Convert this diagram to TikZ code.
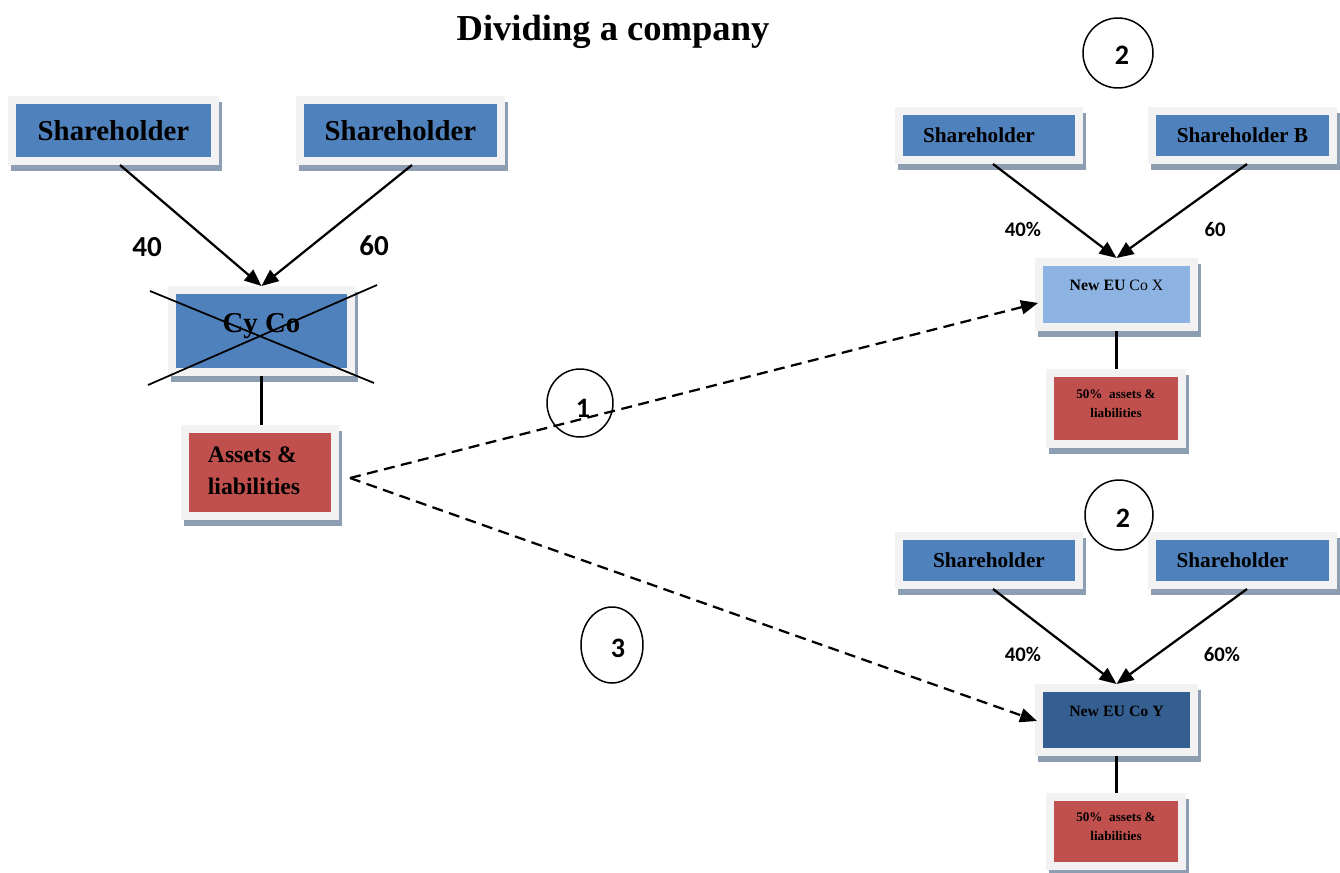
\documentclass[tikz,border=0pt]{standalone}
\usepackage{fontspec}
\setmainfont{Liberation Serif}
\newfontfamily\numfont{Carlito}
\usetikzlibrary{arrows.meta,calc,shapes.geometric}

\definecolor{blueA}{HTML}{4F81BD}
\definecolor{blueLight}{HTML}{8DB3E2}
\definecolor{blueDark}{HTML}{365F91}
\definecolor{redA}{HTML}{C0504D}
\definecolor{framec}{HTML}{F2F2F2}
\definecolor{shadowc}{HTML}{8E9EB2}

% shift a text by (#1,#2) without changing its box
\newcommand\nudge[3]{\raisebox{#2}[\height][\depth]{\hspace*{#1}#3\hspace*{-#1}}}

\tikzset{
  card/.style={draw=framec, line width=0.16cm, inner sep=0pt, align=center,
    preaction={draw=shadowc, fill=shadowc, line width=0.16cm,
      transform canvas={xshift=0.06cm, yshift=-0.12cm}}},
  bigtxt/.style={font=\bfseries\fontsize{16.4}{18}\selectfont},
  midtxt/.style={font=\bfseries\fontsize{12.1}{14}\selectfont},
  smalltxt/.style={font=\fontsize{9}{11}\selectfont},
  tinytxt/.style={font=\bfseries\fontsize{7.5}{10.8}\selectfont},
  share/.style={-{Triangle[length=0.34cm,width=0.28cm]}, line width=0.045cm},
  move/.style={-{Triangle[length=0.34cm,width=0.28cm]}, line width=0.045cm,
    dash pattern=on 0.22cm off 0.13cm},
  link/.style={line width=0.045cm},
  ring/.style={ellipse, draw, line width=0.03cm, inner sep=0pt,
    font=\numfont\bfseries\fontsize{16}{18}\selectfont},
  pctbig/.style={font=\numfont\bfseries\fontsize{16.5}{18}\selectfont},
  pct/.style={font=\numfont\bfseries\fontsize{11.8}{14}\selectfont}
}

\begin{document}
\begin{tikzpicture}[x=0.02cm, y=-0.02cm]
\useasboundingbox (0,0) rectangle (1340,873);

\node[font=\bfseries\fontsize{20.8}{24}\selectfont] (title) at (613,32) {Dividing a company};

% --- the existing company ---
\node[card, bigtxt, fill=blueA, minimum width=4.06cm, minimum height=1.22cm] (lsh1) at (113.5,130.5) {Shareholder};
\node[card, bigtxt, fill=blueA, minimum width=4.02cm, minimum height=1.22cm] (lsh2) at (400.5,130.5) {Shareholder};
\node[card, bigtxt, fill=blueA, minimum width=3.58cm, minimum height=1.64cm] (cyco) at (261.5,331) {\nudge{0cm}{0.1cm}{Cy Co}};
\node[card, fill=redA, minimum width=3.0cm, minimum height=1.74cm, align=left,
  font=\bfseries\fontsize{13.5}{18.2}\selectfont] (assets) at (260,472.5) {\nudge{-0.12cm}{0cm}{\begin{tabular}{@{}l@{}}Assets \&\\[0pt]liabilities\end{tabular}}};

\draw[share] ($(lsh1.south)+(6.5,0)$) -- (cyco.north);
\draw[share] ($(lsh2.south)+(11.5,0)$) -- (cyco.north);
\node[pctbig] (l40) at (147,247) {40};
\node[pctbig] (l60) at (374,246) {60};

% struck out
\draw[line width=0.035cm] (150,291) -- (374,383);
\draw[line width=0.035cm] (148,385) -- (377,285);

\draw[link] (cyco.south) -- (cyco.south |- assets.north);

% --- new company X ---
\node[card, midtxt, fill=blueA, minimum width=3.6cm, minimum height=0.98cm] (xsh1) at (989,135.5) {\nudge{-0.2cm}{0cm}{Shareholder}};
\node[card, midtxt, fill=blueA, minimum width=3.62cm, minimum height=0.98cm] (xsh2) at (1242.5,135.5) {Shareholder B};
\node[card, smalltxt, fill=blueLight, minimum width=3.1cm, minimum height=1.3cm] (newx) at (1116.5,294.5) {\nudge{0cm}{0.18cm}{\textbf{New EU} Co X}};
\node[card, tinytxt, fill=redA, minimum width=2.64cm, minimum height=1.42cm] (xhalf) at (1116,408.5) {\nudge{0cm}{0.08cm}{\begin{tabular}{@{}c@{}}50\%\ \ assets \&\\liabilities\end{tabular}}};

\draw[share] ($(xsh1.south)+(4,0)$) -- (newx.north);
\draw[share] ($(xsh2.south)+(4.5,0)$) -- (newx.north);
\node[pct] (x40) at (1023,229) {40\%};
\node[pct] (x60) at (1215,229) {60};
\draw[link] (newx.south) -- (newx.south |- xhalf.north);

% --- new company Y ---
\node[card, midtxt, fill=blueA, minimum width=3.6cm, minimum height=0.98cm] (ysh1) at (989,560.5) {Shareholder};
\node[card, midtxt, fill=blueA, minimum width=3.62cm, minimum height=0.98cm] (ysh2) at (1242.5,560.5) {\nudge{-0.2cm}{0cm}{Shareholder}};
\node[card, fill=blueDark, minimum width=3.1cm, minimum height=1.28cm,
  font=\bfseries\fontsize{9}{11}\selectfont] (newy) at (1116.5,720) {\nudge{0cm}{0.18cm}{New EU Co Y}};
\node[card, tinytxt, fill=redA, minimum width=2.64cm, minimum height=1.38cm] (yhalf) at (1116,831.5) {\nudge{0cm}{0.08cm}{\begin{tabular}{@{}c@{}}50\%\ \ assets \&\\liabilities\end{tabular}}};

\draw[share] ($(ysh1.south)+(4,0)$) -- (newy.north);
\draw[share] ($(ysh2.south)+(4.5,0)$) -- (newy.north);
\node[pct] (y40) at (1023,654) {40\%};
\node[pct] (y60) at (1222,654) {60\%};
\draw[link] (newy.south) -- (newy.south |- yhalf.north);

% --- transfer of the assets ---
\coordinate (split) at (350,478);
\draw[move] (split) -- ($(newx.west)+(3,8.5)$);
\draw[move] (split) -- ($(newy.west)+(2,1)$);

% step numbers
\node[ring, minimum width=1.32cm, minimum height=1.36cm] (step1) at (580,403) {\nudge{0.06cm}{-0.1cm}{1}};
\node[ring, minimum width=1.24cm, minimum height=1.52cm] (step3) at (612,645) {\nudge{0.12cm}{-0.06cm}{3}};
\node[ring, minimum width=1.4cm, minimum height=1.4cm] (step2a) at (1118,53) {\nudge{0.08cm}{-0.04cm}{2}};
\node[ring, minimum width=1.36cm, minimum height=1.4cm] (step2b) at (1119,515) {\nudge{0.08cm}{-0.06cm}{2}};
\end{tikzpicture}
\end{document}
